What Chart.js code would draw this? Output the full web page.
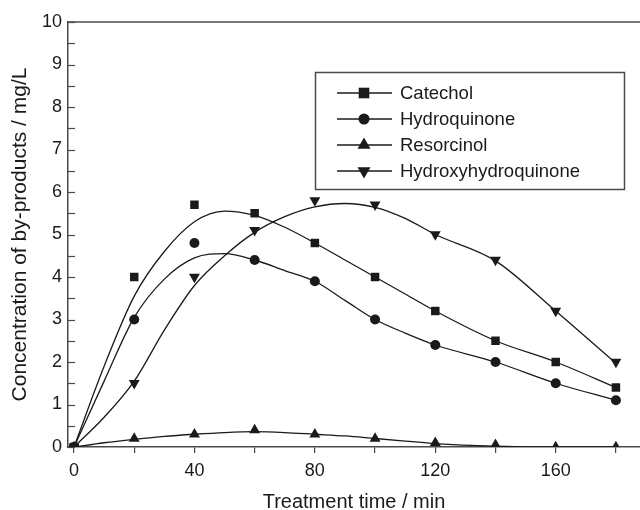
<!DOCTYPE html>
<html>
<head>
<meta charset="utf-8">
<script src="https://cdn.jsdelivr.net/npm/chart.js@4.4.1/dist/chart.umd.min.js"></script>
<style>
  html, body { margin: 0; padding: 0; background: #fff; overflow: hidden; }
  #wrap { width: 640px; height: 510px; }
</style>
</head>
<body>
<div id="wrap"><canvas id="chart" width="640" height="510"></canvas></div>
<script>
// measured points
const times = [0, 20, 40, 60, 80, 100, 120, 140, 160, 180];
const catechol = [0, 4.0, 5.7, 5.5, 4.8, 4.0, 3.2, 2.5, 2.0, 1.4];
const hydroquinone = [0, 3.0, 4.8, 4.4, 3.9, 3.0, 2.4, 2.0, 1.5, 1.1];
const resorcinol = [0, 0.2, 0.3, 0.4, 0.3, 0.2, 0.1, 0.05, 0, 0];
const hydroxyhydroquinone = [0, 1.5, 4.0, 5.1, 5.8, 5.7, 5.0, 4.4, 3.2, 2.0];

// fitted curves
const fitTimes = [0, 10, 20, 30, 40, 50, 60, 70, 80, 90, 100, 110, 120, 140, 160, 180];
const catecholFit = [0, 1.9, 3.55, 4.6, 5.3, 5.55, 5.45, 5.17, 4.8, 4.4, 4.0, 3.6, 3.2, 2.5, 2.0, 1.4];
const hydroquinoneFit = [0, 1.55, 3.05, 3.95, 4.45, 4.55, 4.4, 4.15, 3.9, 3.45, 3.0, 2.68, 2.4, 2.0, 1.5, 1.1];
const resorcinolFit = [0, 0.1, 0.18, 0.25, 0.3, 0.34, 0.36, 0.34, 0.3, 0.26, 0.2, 0.14, 0.08, 0.02, 0, 0];
const hydroxyhydroquinoneFit = [0, 0.7, 1.55, 2.75, 3.8, 4.5, 5.05, 5.42, 5.65, 5.73, 5.64, 5.38, 5.0, 4.38, 3.2, 1.97];

const names = ["Catechol", "Hydroquinone", "Resorcinol", "Hydroxyhydroquinone"];
const xTicks = [0, 20, 40, 60, 80, 100, 120, 140, 160, 180];
const xLabels = [0, 40, 80, 120, 160];
const yTicks = [0, 0.5, 1, 1.5, 2, 2.5, 3, 3.5, 4, 4.5, 5, 5.5, 6, 6.5, 7, 7.5, 8, 8.5, 9, 9.5, 10];

const ink = "#1a1a1a";
const axisInk = "#4a4a4a";
const font = "'Liberation Sans', Arial, sans-serif";

const markers = [
  { style: "rect", radius: 6, rotation: 0 },
  { style: "circle", radius: 5, rotation: 0 },
  { style: "triangle", radius: 6.3, rotation: 0 },
  { style: "triangle", radius: 6.3, rotation: 180 },
];

const pts = (xs, ys) => xs.map((x, i) => ({ x: x, y: ys[i] }));

const fits = [catecholFit, hydroquinoneFit, resorcinolFit, hydroxyhydroquinoneFit];
const series = [catechol, hydroquinone, resorcinol, hydroxyhydroquinone];

const datasets = [];
series.forEach((s, i) => {
  datasets.push({
    label: names[i],
    data: pts(times, s),
    showLine: false,
    pointStyle: markers[i].style,
    pointRotation: markers[i].rotation,
    pointRadius: markers[i].radius,
    pointBackgroundColor: ink,
    pointBorderColor: ink,
    pointBorderWidth: 0,
  });
});
fits.forEach((f, i) => {
  datasets.push({
    label: names[i] + " fit",
    data: pts(fitTimes, f),
    borderColor: ink,
    borderWidth: 1.3,
    pointRadius: 0,
    cubicInterpolationMode: "monotone",
    fill: false,
  });
});

// draws marker shapes in the legend
function drawMarker(ctx, m, x, y, r) {
  ctx.save();
  ctx.fillStyle = ink;
  ctx.beginPath();
  if (m.style === "rect") {
    const h = r * Math.SQRT1_2;
    ctx.rect(x - h, y - h, 2 * h, 2 * h);
  } else if (m.style === "circle") {
    ctx.arc(x, y, r, 0, Math.PI * 2);
  } else {
    const dir = m.rotation === 180 ? -1 : 1;
    ctx.moveTo(x, y - dir * r);
    ctx.lineTo(x + r * 0.866, y + dir * r * 0.5);
    ctx.lineTo(x - r * 0.866, y + dir * r * 0.5);
    ctx.closePath();
  }
  ctx.fill();
  ctx.restore();
}

const framePlugin = {
  id: "frame",
  afterDraw(chart) {
    const ctx = chart.ctx;
    const a = chart.chartArea;
    const y = chart.scales.y;
    ctx.save();
    ctx.strokeStyle = axisInk;
    ctx.lineWidth = 1.5;
    // top line
    ctx.beginPath();
    ctx.moveTo(a.left, a.top);
    ctx.lineTo(a.right, a.top);
    ctx.stroke();
    // inward y ticks
    ctx.lineWidth = 1.2;
    yTicks.forEach(v => {
      const py = Math.round(y.getPixelForValue(v)) + 0.5;
      ctx.beginPath();
      ctx.moveTo(a.left, py);
      ctx.lineTo(a.left + 7, py);
      ctx.stroke();
    });
    ctx.restore();

    // legend box
    ctx.save();
    ctx.strokeStyle = axisInk;
    ctx.lineWidth = 1.5;
    ctx.strokeRect(315.5, 72.5, 309, 117);
    ctx.font = "18.5px " + font;
    ctx.textBaseline = "middle";
    ctx.fillStyle = ink;
    const rows = [93, 119, 145, 171];
    names.forEach((n, i) => {
      const ry = rows[i];
      ctx.strokeStyle = ink;
      ctx.lineWidth = 1.3;
      ctx.beginPath();
      ctx.moveTo(337, ry);
      ctx.lineTo(392, ry);
      ctx.stroke();
      drawMarker(ctx, markers[i], 364, ry, i === 1 ? 5.5 : 7.5);
      ctx.fillText(n, 400, ry + 1);
    });
    ctx.restore();
  }
};

new Chart(document.getElementById("chart"), {
  type: "line",
  data: { datasets: datasets },
  options: {
    responsive: false,
    animation: false,
    layout: { autoPadding: false, padding: { top: 22, right: 0, left: 0, bottom: 0 } },
    plugins: {
      legend: { display: false },
      tooltip: { enabled: false },
    },
    scales: {
      x: {
        type: "linear",
        min: -2,
        max: 188,
        afterBuildTicks: s => { s.ticks = xTicks.map(v => ({ value: v })); },
        afterFit: s => { s.height = 63; s.paddingLeft = 0; s.paddingRight = 0; },
        grid: { drawOnChartArea: false, drawTicks: true, tickLength: 6, color: axisInk, lineWidth: 1.2 },
        border: { display: true, color: axisInk, width: 1.5 },
        ticks: {
          color: ink,
          padding: 7,
          maxRotation: 0,
          autoSkip: false,
          font: { family: font, size: 18 },
          callback: v => (xLabels.includes(v) ? String(v) : ""),
        },
        title: {
          display: true,
          text: "Treatment time / min",
          color: ink,
          font: { family: font, size: 20 },
          padding: { top: 0, bottom: -4 },
        },
      },
      y: {
        type: "linear",
        min: 0,
        max: 10,
        afterBuildTicks: s => { s.ticks = yTicks.filter(v => Number.isInteger(v)).map(v => ({ value: v })); },
        afterFit: s => { s.width = 68; },
        grid: { display: false, drawTicks: false },
        border: { display: true, color: axisInk, width: 1.5 },
        ticks: {
          color: ink,
          padding: 6,
          font: { family: font, size: 18 },
        },
        title: {
          display: true,
          text: "Concentration of by-products / mg/L",
          color: ink,
          font: { family: font, size: 21 },
          padding: { top: 8, bottom: 0 },
        },
      },
    },
  },
  plugins: [framePlugin],
});
</script>
</body>
</html>
